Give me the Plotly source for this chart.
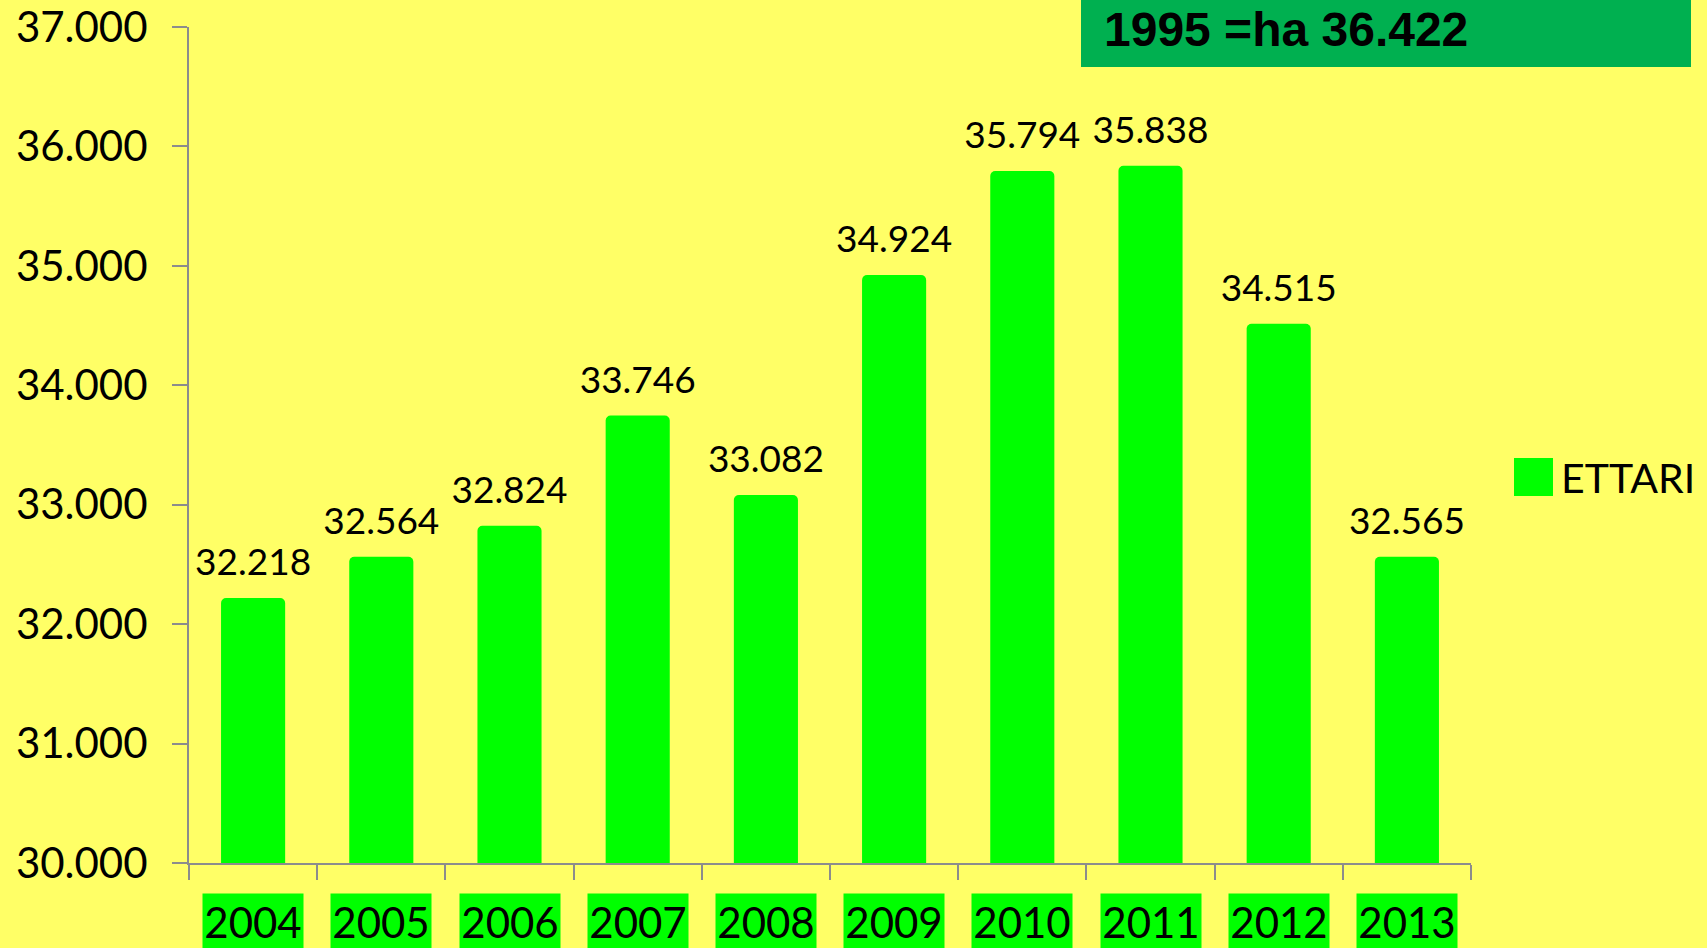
import plotly.graph_objects as go

# ---- data ----
years = ["2004", "2005", "2006", "2007", "2008", "2009", "2010", "2011", "2012", "2013"]
ettari = [32218, 32564, 32824, 33746, 33082, 34924, 35794, 35838, 34515, 32565]
series_name = "ETTARI"
note_text = "1995 =ha 36.422"
y_ticks = [30000, 31000, 32000, 33000, 34000, 35000, 36000, 37000]

BG = "#FFFF66"
BAR = "#00FF00"
NOTE_BG = "#00B050"
AXIS = "#8C8C8C"
FONT = "Lato, Carlito, 'Open Sans', sans-serif"

W, H = 1707, 948
L, R, T, B = 189, 236, 27, 85
pw, ph = W - L - R, H - T - B


def px_x(x):
    return (x - L) / pw


def px_y(y):
    return (H - B - y) / ph


fig = go.Figure()
fig.add_trace(go.Bar(
    x=years, y=ettari, name=series_name,
    marker=dict(color=BAR, line=dict(width=0), cornerradius=5),
    showlegend=False, hoverinfo="x+y",
))
# value labels, placed above each bar top
fig.add_trace(go.Scatter(
    x=years, y=ettari, mode="markers+text",
    marker=dict(size=20, opacity=0, color=BAR),
    texttemplate="%{y:,.0f}", textposition="top center",
    textfont=dict(family=FONT, size=37, color="black"),
    cliponaxis=False, showlegend=False, hoverinfo="skip",
))

annotations = []
for i, yr in enumerate(years):
    # on a category axis a numeric x is the category index
    annotations.append(dict(
        x=i, xref="x", y=0, yref="paper", yanchor="top", yshift=-30,
        text=yr, showarrow=False, bgcolor=BAR, width=100, height=55,
        borderpad=0, valign="middle",
        font=dict(family=FONT, size=42, color="black"),
    ))

# note box text
annotations.append(dict(
    x=px_x(1102), xref="paper", xanchor="left",
    y=px_y(30), yref="paper", yanchor="middle",
    text="<b>" + note_text + "</b>", showarrow=False,
    font=dict(family="'Liberation Sans Narrow', 'Arial Narrow', 'Liberation Sans', Arial, sans-serif",
              size=48, color="black"),
))

# legend text
annotations.append(dict(
    x=px_x(1559), xref="paper", xanchor="left",
    y=px_y(477), yref="paper", yanchor="middle",
    text=series_name, showarrow=False,
    font=dict(family=FONT, size=41, color="black"),
))

shapes = [
    dict(type="rect", xref="paper", yref="paper",
         x0=px_x(1081), x1=px_x(1691), y0=px_y(67), y1=px_y(-5),
         fillcolor=NOTE_BG, line=dict(width=0), layer="below"),
    dict(type="rect", xref="paper", yref="paper",
         x0=px_x(1514), x1=px_x(1553), y0=px_y(496), y1=px_y(458),
         fillcolor=BAR, line=dict(width=0)),
]

fig.update_layout(
    width=W, height=H,
    margin=dict(l=L, r=R, t=T, b=B, autoexpand=False),
    paper_bgcolor=BG, plot_bgcolor=BG,
    separators=",.",
    bargap=0.5,
    showlegend=False,
    annotations=annotations,
    shapes=shapes,
    xaxis=dict(
        type="category", categoryorder="array", categoryarray=years,
        range=[-0.5, len(years) - 0.5],
        showline=True, linecolor=AXIS, linewidth=2,
        ticks="outside", tickson="boundaries", ticklen=15, tickwidth=2, tickcolor=AXIS,
        showticklabels=False, showgrid=False, zeroline=False,
    ),
    yaxis=dict(
        range=[30000, 37000], tickvals=y_ticks, tickformat=",.0f",
        showline=True, linecolor=AXIS, linewidth=2,
        ticks="outside", ticklen=15, tickwidth=2, tickcolor=AXIS,
        ticklabelstandoff=16,
        tickfont=dict(family=FONT, size=42, color="black"),
        showgrid=False, zeroline=False,
    ),
)

fig.write_html(
    "out.html",
    config={"displayModeBar": False},
    post_script="document.body.style.margin='0';document.body.style.background='" + BG + "';",
)
